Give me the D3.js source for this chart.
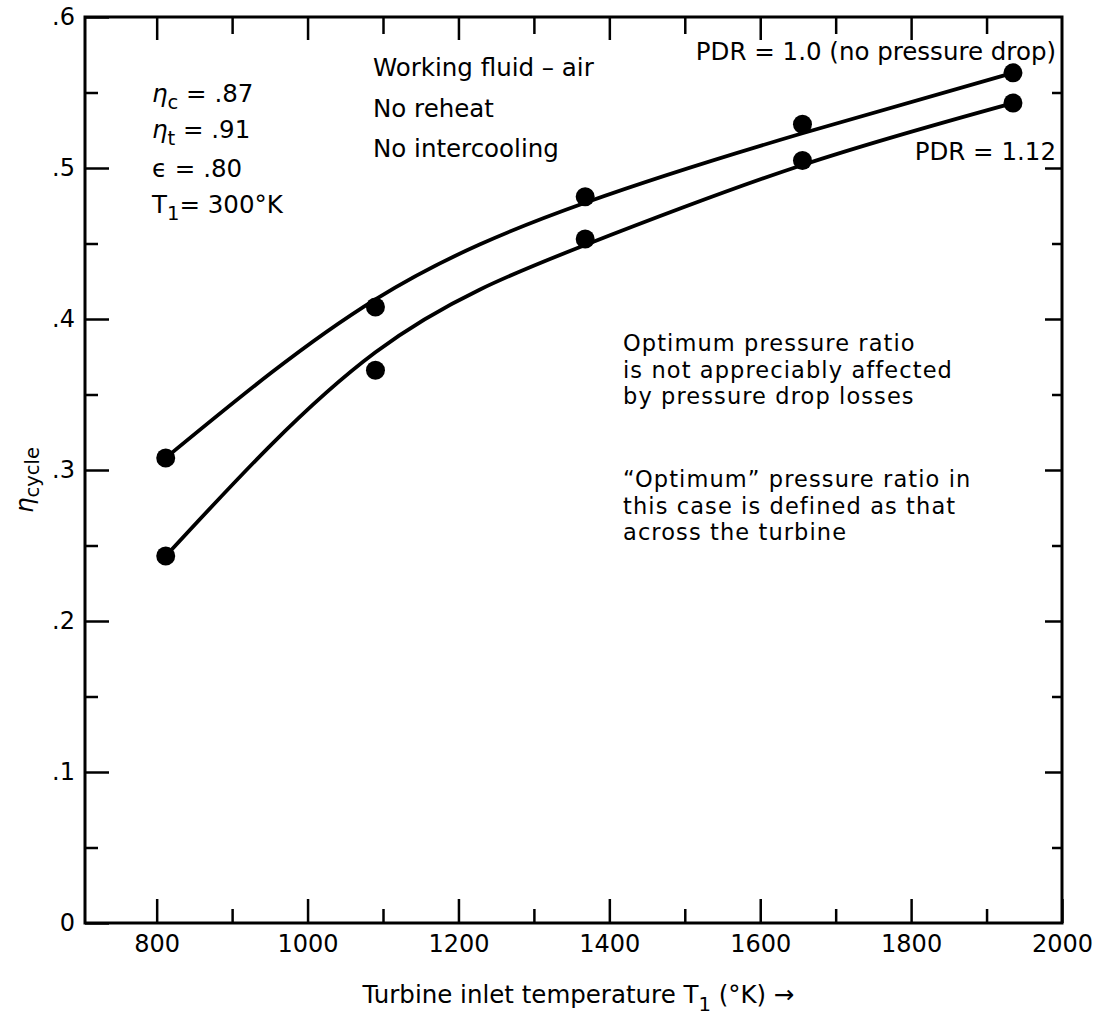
<!DOCTYPE html>
<html><head><meta charset="utf-8">
<script src="https://cdn.jsdelivr.net/npm/d3@7"></script>
<style>
body{margin:0;background:#fff;}
svg text{font-family:"DejaVu Sans",sans-serif;fill:#000;}
</style></head>
<body><svg id="c" width="1099" height="1020"></svg>
<script>
// Data
const pointT = [812, 1090, 1368, 1656, 1935];
const etaPDR100 = [0.308, 0.408, 0.481, 0.529, 0.563];
const etaPDR112 = [0.243, 0.366, 0.453, 0.505, 0.543];
const curveT = [812, 1090, 1368, 1656, 1935];
const curvePDR100 = [0.308, 0.413, 0.477, 0.523, 0.563];
const curvePDR112 = [0.243, 0.378, 0.449, 0.502, 0.543];
const xMajor = [800, 1000, 1200, 1400, 1600, 1800, 2000];
const xMinor = [900, 1100, 1300, 1500, 1700, 1900];
const yMajor = [0, 0.1, 0.2, 0.3, 0.4, 0.5, 0.6];
const yMinor = [0.05, 0.15, 0.25, 0.35, 0.45, 0.55];
const yLabels = ["0", ".1", ".2", ".3", ".4", ".5", ".6"];

const svg = d3.select("#c");
const x = d3.scaleLinear().domain([705, 2000]).range([85, 1062]);
const y = d3.scaleLinear().domain([0, 0.6]).range([923, 17]);
const [x0, x1] = x.range(), [y0, y1] = y.range();

// Frame
svg.append("rect").attr("x", x0).attr("y", y1).attr("width", x1 - x0).attr("height", y0 - y1)
  .attr("fill", "none").attr("stroke", "#000").attr("stroke-width", 3);

function styleAxis(g){ g.select(".domain").remove(); g.selectAll("line").attr("stroke","#000").attr("stroke-width",2.5); g.selectAll("text").attr("font-size",24).attr("font-family","DejaVu Sans"); }

// bottom
svg.append("g").attr("transform", `translate(0,${y0})`)
  .call(d3.axisBottom(x).tickValues(xMajor).tickSizeInner(-24).tickSizeOuter(0).tickPadding(12).tickFormat(d3.format("d")))
  .call(styleAxis);
svg.append("g").attr("transform", `translate(0,${y0})`)
  .call(d3.axisBottom(x).tickValues(xMinor).tickSizeInner(-14).tickSizeOuter(0).tickFormat(""))
  .call(styleAxis);
// top
svg.append("g").attr("transform", `translate(0,${y1})`)
  .call(d3.axisTop(x).tickValues(xMajor.filter(d=>d<2000)).tickSizeInner(-23).tickSizeOuter(0).tickFormat(""))
  .call(styleAxis);
svg.append("g").attr("transform", `translate(0,${y1})`)
  .call(d3.axisTop(x).tickValues(xMinor).tickSizeInner(-17).tickSizeOuter(0).tickFormat(""))
  .call(styleAxis);
// left
svg.append("g").attr("transform", `translate(${x0},0)`)
  .call(d3.axisLeft(y).tickValues(yMajor).tickSizeInner(-24).tickSizeOuter(0).tickPadding(10).tickFormat((d,i)=>yLabels[i]))
  .call(styleAxis);
svg.append("g").attr("transform", `translate(${x0},0)`)
  .call(d3.axisLeft(y).tickValues(yMinor).tickSizeInner(-13).tickSizeOuter(0).tickFormat(""))
  .call(styleAxis);
// right
svg.append("g").attr("transform", `translate(${x1},0)`)
  .call(d3.axisRight(y).tickValues(yMajor.filter(d=>d>0&&d<0.6)).tickSizeInner(-17).tickSizeOuter(0).tickFormat(""))
  .call(styleAxis);
svg.append("g").attr("transform", `translate(${x1},0)`)
  .call(d3.axisRight(y).tickValues(yMinor).tickSizeInner(-10).tickSizeOuter(0).tickFormat(""))
  .call(styleAxis);

// Curves
const line = d3.line().x(d=>x(d[0])).y(d=>y(d[1])).curve(d3.curveNatural);
[curvePDR100, curvePDR112].forEach(arr=>{
  svg.append("path").attr("d", line(curveT.map((t,i)=>[t, arr[i]])))
    .attr("fill","none").attr("stroke","#000").attr("stroke-width",3.8);
});
// Points
[etaPDR100, etaPDR112].forEach(arr=>{
  svg.selectAll(null).data(pointT.map((t,i)=>[t, arr[i]])).enter().append("circle")
    .attr("cx", d=>x(d[0])).attr("cy", d=>y(d[1])).attr("r", 9.5).attr("fill","#000");
});

// Annotations
const fs = 24.5;
let t;
t = svg.append("text").attr("x",152).attr("y",102).attr("font-size",fs);
t.append("tspan").attr("font-style","italic").text("η"); t.append("tspan").attr("font-size",fs*0.8).attr("dy",7).text("c"); t.append("tspan").attr("dy",-7).text(" = .87");
t = svg.append("text").attr("x",152).attr("y",138).attr("font-size",fs);
t.append("tspan").attr("font-style","italic").text("η"); t.append("tspan").attr("font-size",fs*0.8).attr("dy",7).text("t"); t.append("tspan").attr("dy",-7).text(" = .91");
svg.append("text").attr("x",152).attr("y",177).attr("font-size",fs).text("ϵ = .80");
t = svg.append("text").attr("x",152).attr("y",213).attr("font-size",fs);
t.append("tspan").text("T"); t.append("tspan").attr("font-size",fs*0.8).attr("dy",7).text("1"); t.append("tspan").attr("dy",-7).text("= 300°K");

const midLines = ["Working fluid – air", "No reheat", "No intercooling"];
const midY = [76, 117, 157];
midLines.forEach((s,i)=>svg.append("text").attr("x",373).attr("y",midY[i]).attr("font-size",fs).text(s));

svg.append("text").attr("x",1056).attr("y",60).attr("text-anchor","end").attr("font-size",fs).text("PDR = 1.0 (no pressure drop)");
svg.append("text").attr("x",1056).attr("y",160).attr("text-anchor","end").attr("font-size",fs).text("PDR = 1.12");

const note1 = ["Optimum pressure ratio", "is not appreciably affected", "by pressure drop losses"];
const note2 = ["“Optimum” pressure ratio in", "this case is defined as that", "across the turbine"];
const nfs = 22.5;
note1.forEach((s,i)=>svg.append("text").attr("x",623).attr("y",351+26.5*i).attr("font-size",nfs).attr("letter-spacing",1.1).text(s));
note2.forEach((s,i)=>svg.append("text").attr("x",623).attr("y",487+26.5*i).attr("font-size",nfs).attr("letter-spacing",1.1).text(s));

// Axis titles
t = svg.append("text").attr("x",(x0+x1)/2+5).attr("y",1003).attr("text-anchor","middle").attr("font-size",fs);
t.append("tspan").text("Turbine inlet temperature T");
t.append("tspan").attr("font-size",fs*0.8).attr("dy",8).text("1");
t.append("tspan").attr("dy",-8).text(" (°K) →");

t = svg.append("text").attr("transform","translate(33,480) rotate(-90)").attr("text-anchor","middle").attr("font-size",fs);
t.append("tspan").attr("font-style","italic").text("η");
t.append("tspan").attr("font-size",fs*0.8).attr("dy",6).text("cycle");
</script></body></html>
